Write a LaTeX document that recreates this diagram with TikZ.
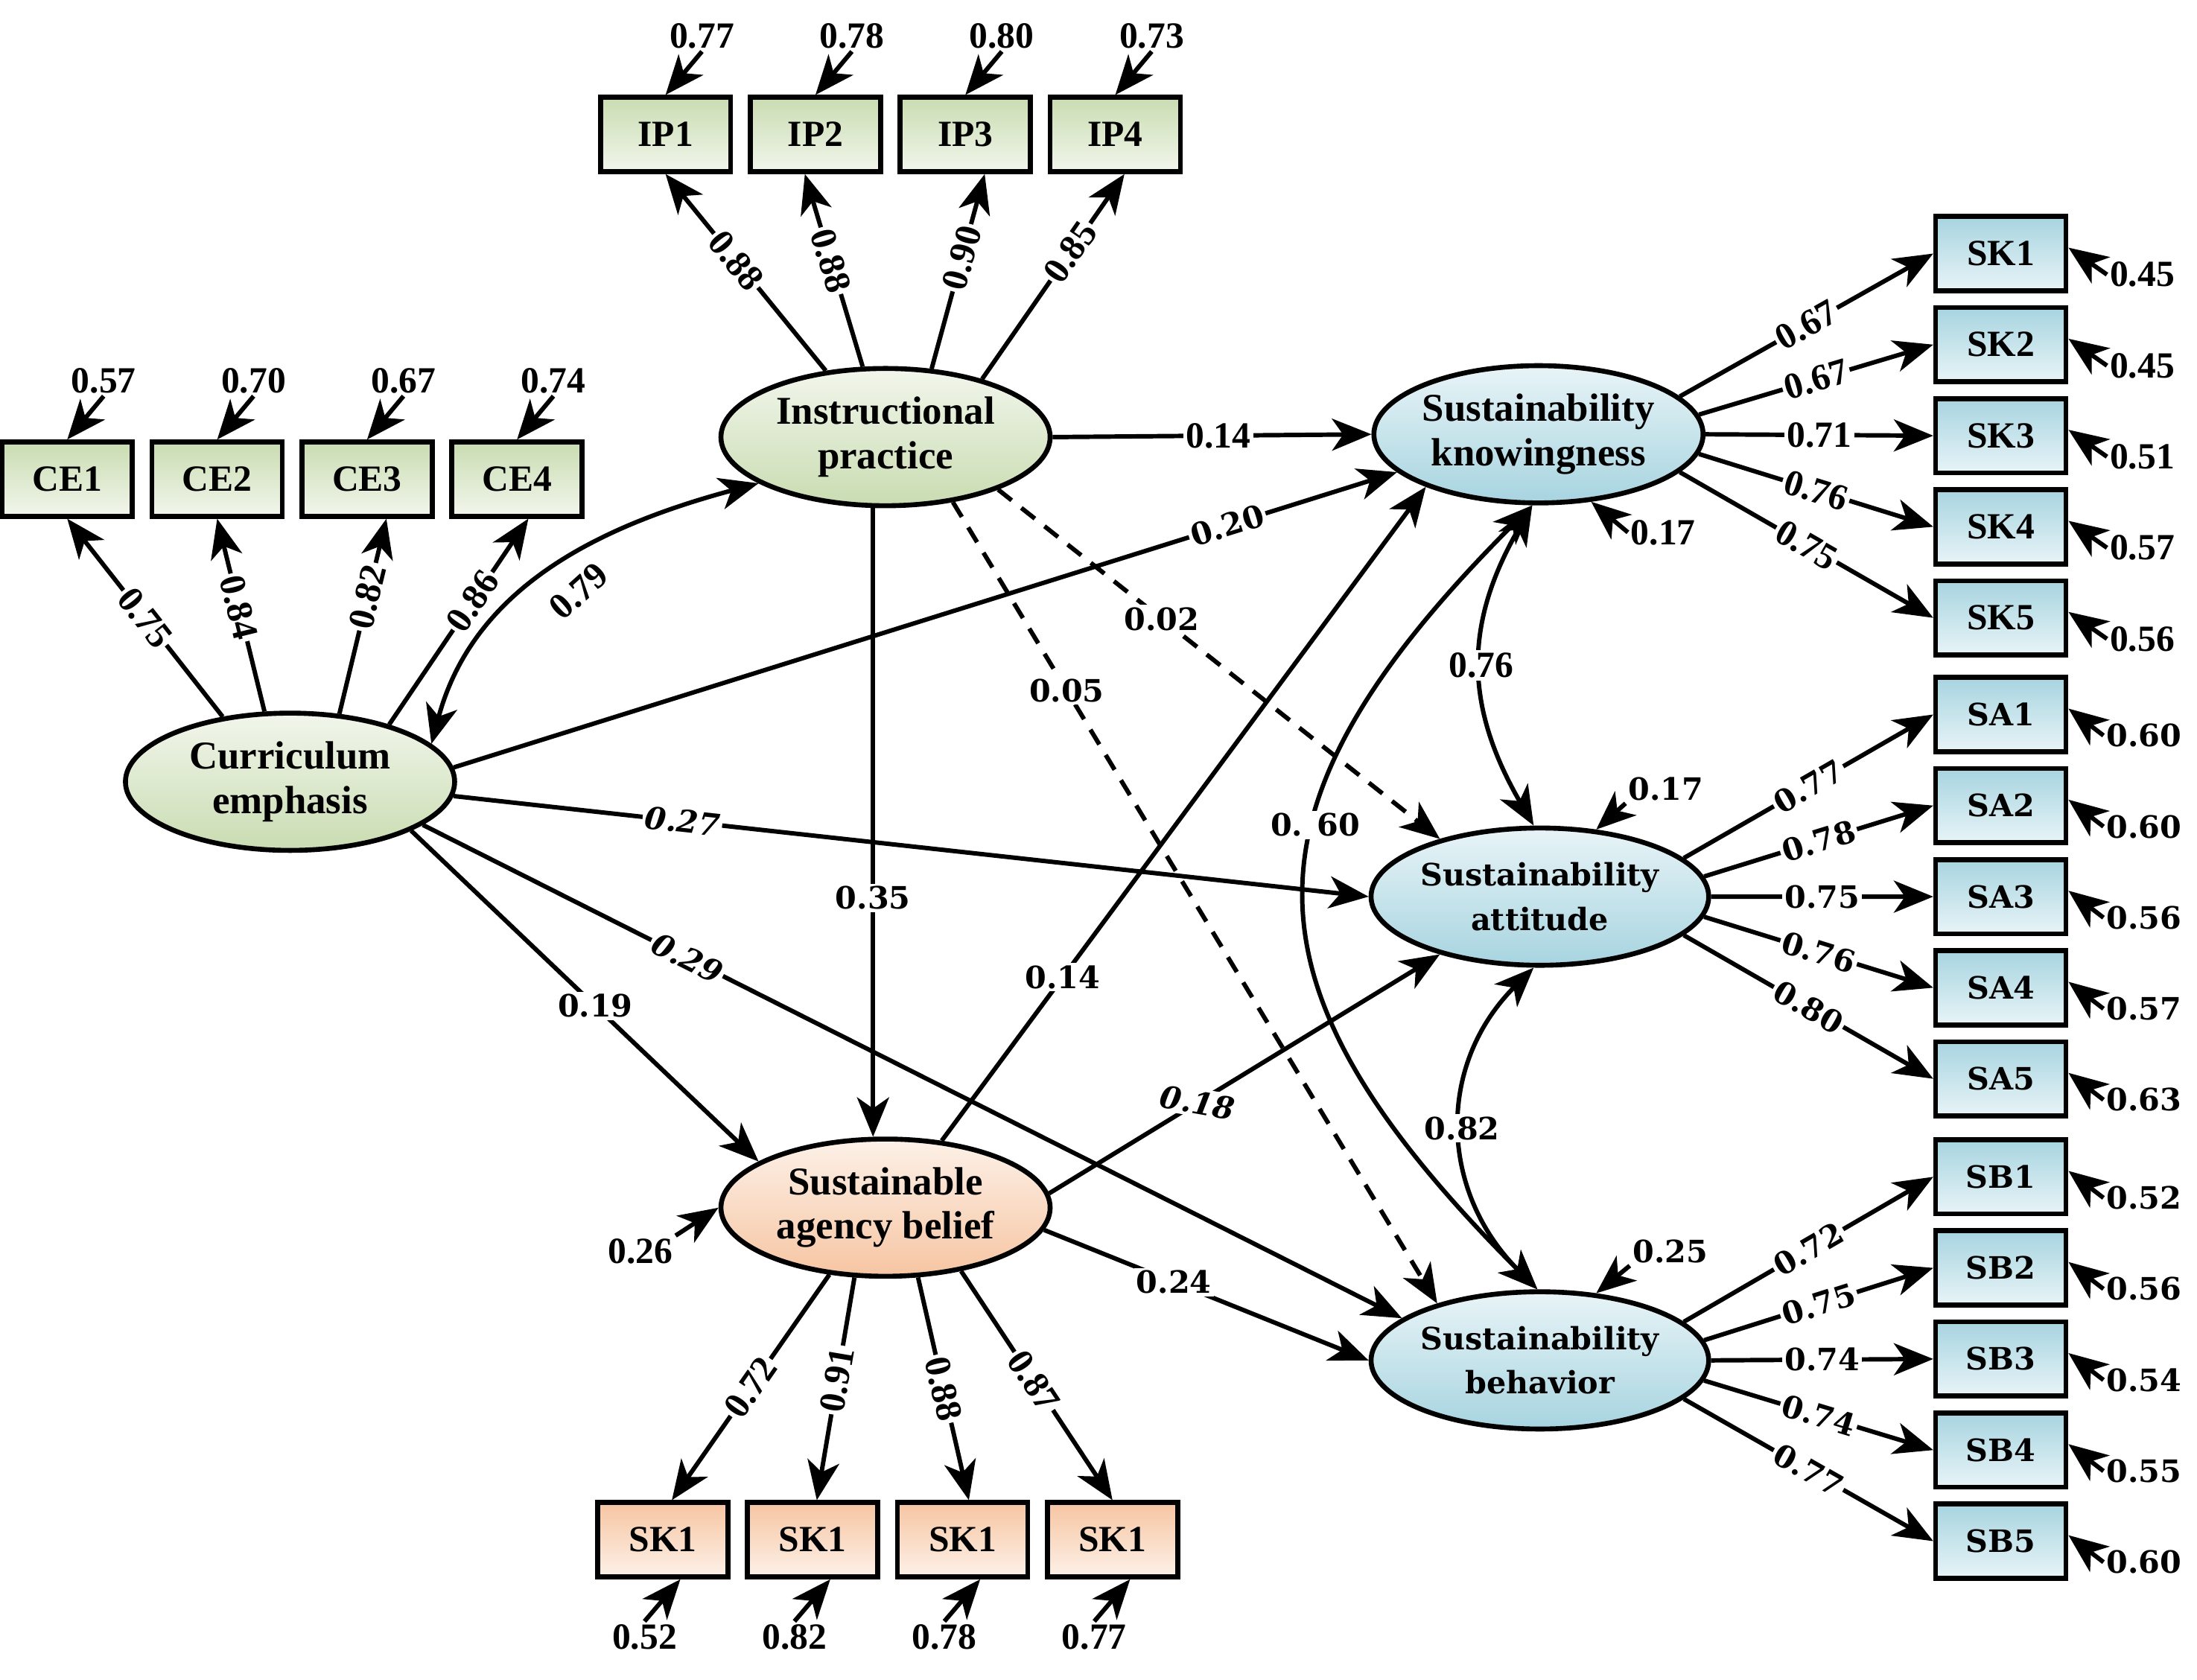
\documentclass[tikz,border=0pt]{standalone}
\usepackage{fontspec}
\setmainfont{Liberation Serif}
\newfontfamily\dvfont{DejaVu Serif}
\usepackage{tikz}
\usetikzlibrary{arrows.meta,shapes.geometric,positioning}

\definecolor{grnD}{HTML}{C9DCB1}
\definecolor{grnL}{HTML}{F2F6EC}
\definecolor{bluD}{HTML}{A7D4E0}
\definecolor{bluL}{HTML}{E8F4F7}
\definecolor{orgD}{HTML}{F6C5A2}
\definecolor{orgL}{HTML}{FDF1E8}

\begin{document}
\begin{tikzpicture}[
  x=0.02cm, y=0.02cm,
  font=\fontsize{15}{18}\selectfont\bfseries,
  dv/.style={font=\dvfont\fontsize{12.5}{18}\selectfont\bfseries},
  dvi/.style={font=\dvfont\fontsize{12.5}{18}\selectfont\bfseries\itshape},
  box/.style={rectangle, draw, line width=2pt, minimum width=1.86cm, minimum height=1.06cm, inner sep=1pt},
  gbox/.style={box, top color=grnD, bottom color=grnL},
  bbox/.style={box, top color=bluD, bottom color=bluL},
  obox/.style={box, top color=orgD, bottom color=orgL},
  latent/.style={ellipse, draw, line width=2pt, minimum width=4.7cm, minimum height=1.96cm, inner sep=0pt, align=center, font=\fontsize{16}{18}\selectfont\bfseries},
  glat/.style={latent, top color=grnL, bottom color=grnD},
  blat/.style={latent, top color=bluL, bottom color=bluD},
  olat/.style={latent, top color=orgL, bottom color=orgD},
  arrow/.style={-{Stealth[length=16pt, width=13pt, inset=4.5pt]}, line width=1.8pt},
  covar/.style={{Stealth[length=16pt, width=13pt, inset=4.5pt]}-{Stealth[length=16pt, width=13pt, inset=4.5pt]}, line width=1.8pt},
  dashline/.style={dash pattern=on 7pt off 5pt},
  coef/.style={fill=white, inner sep=1pt},
  val/.style={inner sep=1pt}
]
  \useasboundingbox (0,0) rectangle (1568,1199);

  % latent variables
  \node[glat] (ce) at (207,641) {Curriculum\\emphasis};
  \node[glat] (ip) at (632,887) {Instructional\\practice};
  \node[olat] (sab) at (632,337) {Sustainable\\agency belief};
  \node[blat] (sk) at (1098,889) {Sustainability\\knowingness};
  \node[blat, dv] (sa) at (1099,559) {Sustainability\\attitude};
  \node[blat, dv] (sb) at (1099,228) {Sustainability\\behavior};

  % indicators
  \node[gbox] (ce1) at (48,857) {CE1};
  \node[gbox, right=0.21cm of ce1] (ce2) {CE2};
  \node[gbox, right=0.21cm of ce2] (ce3) {CE3};
  \node[gbox, right=0.21cm of ce3] (ce4) {CE4};

  \node[gbox] (ip1) at (475,1103) {IP1};
  \node[gbox, right=0.21cm of ip1] (ip2) {IP2};
  \node[gbox, right=0.21cm of ip2] (ip3) {IP3};
  \node[gbox, right=0.21cm of ip3] (ip4) {IP4};

  \node[obox] (ab1) at (473,100) {SK1};
  \node[obox, right=0.21cm of ab1] (ab2) {SK1};
  \node[obox, right=0.21cm of ab2] (ab3) {SK1};
  \node[obox, right=0.21cm of ab3] (ab4) {SK1};

  \node[bbox] (sk1) at (1428,1018) {SK1};
  \node[bbox, below=0.17cm of sk1] (sk2) {SK2};
  \node[bbox, below=0.17cm of sk2] (sk3) {SK3};
  \node[bbox, below=0.17cm of sk3] (sk4) {SK4};
  \node[bbox, below=0.17cm of sk4] (sk5) {SK5};

  \node[bbox, dv] (sa1) at (1428,689) {SA1};
  \node[bbox, dv, below=0.17cm of sa1] (sa2) {SA2};
  \node[bbox, dv, below=0.17cm of sa2] (sa3) {SA3};
  \node[bbox, dv, below=0.17cm of sa3] (sa4) {SA4};
  \node[bbox, dv, below=0.17cm of sa4] (sa5) {SA5};

  \node[bbox, dv] (sb1) at (1428,359) {SB1};
  \node[bbox, dv, below=0.17cm of sb1] (sb2) {SB2};
  \node[bbox, dv, below=0.17cm of sb2] (sb3) {SB3};
  \node[bbox, dv, below=0.17cm of sb3] (sb4) {SB4};
  \node[bbox, dv, below=0.17cm of sb4] (sb5) {SB5};

  % error terms
  \node[val, above=0.62cm of ce1, xshift=0.52cm] (ce1e) {0.57};
  \node[val, above=0.62cm of ce2, xshift=0.52cm] (ce2e) {0.70};
  \node[val, above=0.62cm of ce3, xshift=0.52cm] (ce3e) {0.67};
  \node[val, above=0.62cm of ce4, xshift=0.52cm] (ce4e) {0.74};
  \node[val, above=0.62cm of ip1, xshift=0.52cm] (ip1e) {0.77};
  \node[val, above=0.62cm of ip2, xshift=0.52cm] (ip2e) {0.78};
  \node[val, above=0.62cm of ip3, xshift=0.52cm] (ip3e) {0.80};
  \node[val, above=0.62cm of ip4, xshift=0.52cm] (ip4e) {0.73};
  \node[val, below=0.6cm of ab1, xshift=-0.26cm] (ab1e) {0.52};
  \node[val, below=0.6cm of ab2, xshift=-0.26cm] (ab2e) {0.82};
  \node[val, below=0.6cm of ab3, xshift=-0.26cm] (ab3e) {0.78};
  \node[val, below=0.6cm of ab4, xshift=-0.26cm] (ab4e) {0.77};
  \node[val, right=0.55cm of sk1, yshift=-0.3cm] (sk1e) {0.45};
  \node[val, right=0.55cm of sk2, yshift=-0.3cm] (sk2e) {0.45};
  \node[val, right=0.55cm of sk3, yshift=-0.3cm] (sk3e) {0.51};
  \node[val, right=0.55cm of sk4, yshift=-0.3cm] (sk4e) {0.57};
  \node[val, right=0.55cm of sk5, yshift=-0.3cm] (sk5e) {0.56};
  \node[val, dv, right=0.5cm of sa1, yshift=-0.3cm] (sa1e) {0.60};
  \node[val, dv, right=0.5cm of sa2, yshift=-0.3cm] (sa2e) {0.60};
  \node[val, dv, right=0.5cm of sa3, yshift=-0.3cm] (sa3e) {0.56};
  \node[val, dv, right=0.5cm of sa4, yshift=-0.3cm] (sa4e) {0.57};
  \node[val, dv, right=0.5cm of sa5, yshift=-0.3cm] (sa5e) {0.63};
  \node[val, dv, right=0.5cm of sb1, yshift=-0.3cm] (sb1e) {0.52};
  \node[val, dv, right=0.5cm of sb2, yshift=-0.3cm] (sb2e) {0.56};
  \node[val, dv, right=0.5cm of sb3, yshift=-0.3cm] (sb3e) {0.54};
  \node[val, dv, right=0.5cm of sb4, yshift=-0.3cm] (sb4e) {0.55};
  \node[val, dv, right=0.5cm of sb5, yshift=-0.3cm] (sb5e) {0.60};

  \node[val] (skd) at (1187,819) {0.17};
  \node[val, dv] (sad) at (1189,636) {0.17};
  \node[val, dv] (sbd) at (1192,306) {0.25};
  \node[val] (sabd) at (457,306) {0.26};

  \draw[arrow] (ce1e.south) -- (ce1.north);
  \draw[arrow] (ce2e.south) -- (ce2.north);
  \draw[arrow] (ce3e.south) -- (ce3.north);
  \draw[arrow] (ce4e.south) -- (ce4.north);
  \draw[arrow] (ip1e.south) -- (ip1.north);
  \draw[arrow] (ip2e.south) -- (ip2.north);
  \draw[arrow] (ip3e.south) -- (ip3.north);
  \draw[arrow] (ip4e.south) -- (ip4.north);
  \draw[arrow] (ab1e.north) -- (ab1.-66);
  \draw[arrow] (ab2e.north) -- (ab2.-66);
  \draw[arrow] (ab3e.north) -- (ab3.-66);
  \draw[arrow] (ab4e.north) -- (ab4.-66);
  \draw[arrow] (sk1e.west) -- (sk1.5);
  \draw[arrow] (sk2e.west) -- (sk2.5);
  \draw[arrow] (sk3e.west) -- (sk3.5);
  \draw[arrow] (sk4e.west) -- (sk4.5);
  \draw[arrow] (sk5e.west) -- (sk5.5);
  \draw[arrow] (sa1e.west) -- (sa1.5);
  \draw[arrow] (sa2e.west) -- (sa2.5);
  \draw[arrow] (sa3e.west) -- (sa3.5);
  \draw[arrow] (sa4e.west) -- (sa4.5);
  \draw[arrow] (sa5e.west) -- (sa5.5);
  \draw[arrow] (sb1e.west) -- (sb1.5);
  \draw[arrow] (sb2e.west) -- (sb2.5);
  \draw[arrow] (sb3e.west) -- (sb3.5);
  \draw[arrow] (sb4e.west) -- (sb4.5);
  \draw[arrow] (sb5e.west) -- (sb5.5);
  \draw[arrow] (skd.west) -- (sk.-52);
  \draw[arrow] (sad.south west) -- (sa.50);
  \draw[arrow] (sbd.south west) -- (sb.50);
  \draw[arrow] (sabd.north east) -- (sab.west);

  % loadings
  \draw[arrow] (ce.136) -- node[coef, sloped, pos=0.5] {0.75} (ce1.south);
  \draw[arrow] (ce.110) -- node[coef, sloped, pos=0.54] {0.84} (ce2.south);
  \draw[arrow] (ce.54) -- node[coef, sloped, pos=0.6] {0.82} (ce3.-64);
  \draw[arrow] (ce.30) -- node[coef, sloped, pos=0.6] {0.86} (ce4.-74);

  \draw[arrow] (ip.132) -- node[coef, sloped, pos=0.56] {0.88} (ip1.south);
  \draw[arrow] (ip.108) -- node[coef, sloped, pos=0.55] {0.88} (ip2.-105);
  \draw[arrow] (ip.56) -- node[coef, sloped, pos=0.57] {0.90} (ip3.-64);
  \draw[arrow] (ip.31) -- node[coef, sloped, pos=0.62] {0.85} (ip4.-77);

  \draw[arrow] (sab.-130) -- node[coef, sloped, pos=0.5] {0.72} (ab1.77);
  \draw[arrow] (sab.-114) -- node[coef, sloped, pos=0.46] {0.91} (ab2.84);
  \draw[arrow] (sab.-65) -- node[coef, sloped, pos=0.5] {0.88} (ab3.81);
  \draw[arrow] (sab.-40) -- node[coef, sloped, pos=0.48] {0.87} (ab4.north);

  \draw[arrow] (sk.15) -- node[coef, sloped] {0.67} (sk1.west);
  \draw[arrow] (sk.7) -- node[coef, sloped] {0.67} (sk2.west);
  \draw[arrow] (sk.east) -- node[coef] {0.71} (sk3.west);
  \draw[arrow] (sk.-7) -- node[coef, sloped] {0.76} (sk4.west);
  \draw[arrow] (sk.-15) -- node[coef, sloped] {0.75} (sk5.west);

  \draw[arrow] (sa.15) -- node[coef, dv, sloped] {0.77} (sa1.west);
  \draw[arrow] (sa.7) -- node[coef, dv, sloped] {0.78} (sa2.west);
  \draw[arrow] (sa.east) -- node[coef, dv] {0.75} (sa3.west);
  \draw[arrow] (sa.-7) -- node[coef, dv, sloped] {0.76} (sa4.west);
  \draw[arrow] (sa.-15) -- node[coef, dv, sloped] {0.80} (sa5.west);

  \draw[arrow] (sb.15) -- node[coef, dv, sloped] {0.72} (sb1.west);
  \draw[arrow] (sb.7) -- node[coef, dv, sloped] {0.75} (sb2.west);
  \draw[arrow] (sb.east) -- node[coef, dv] {0.74} (sb3.west);
  \draw[arrow] (sb.-7) -- node[coef, dv, sloped] {0.74} (sb4.west);
  \draw[arrow] (sb.-15) -- node[coef, dv, sloped] {0.77} (sb5.west);

  % structural paths
  \draw[arrow] (ip.east) -- node[coef, pos=0.52] {0.14} (sk.west);
  \draw[arrow] (ce.5) -- node[coef, dv, sloped, pos=0.82] {0.20} (sk.195);
  \draw[arrow, dashline] (ip.-25) -- node[coef, dv, pos=0.37] {0.02} (sa.150);
  \draw[arrow, dashline] (ip.-44) -- node[coef, dv, pos=0.235] {0.05} (sb.151);
  \draw[arrow] (ip.-100) -- node[coef, dv, pos=0.62] {0.35} (sab.100);
  \draw[arrow] (ce.-5) -- node[coef, dvi, sloped, pos=0.25] {0.27} (sa.west);
  \draw[arrow] (ce.-18) -- node[coef, dvi, sloped, pos=0.27] {0.29} (sb.163);
  \draw[arrow] (ce.-22) -- node[coef, dv, pos=0.53] {0.19} (sab.160);
  \draw[arrow] (sab.50) -- node[coef, dv, pos=0.25] {0.14} (sk.205);
  \draw[arrow] (sab.5) -- node[coef, dvi, pos=0.38, rotate=-10] {0.18} (sa.210);
  \draw[arrow] (sab.-8) -- node[coef, dv, pos=0.4] {0.24} (sb.west);

  % covariances
  \draw[covar] (ce.15) to[out=75, in=195] (ip.200);
  \node[val, rotate=42] (r79) at (413,777) {0.79};
  \draw[covar] (sk.-95) to[out=240, in=120, looseness=1.1] node[coef] {0.76} (sa.95);
  \draw[covar] (sa.-95) to[out=225, in=135, looseness=1.1] node[coef, dv] {0.82} (sb.92);
  \draw[covar] (sk.-95) to[out=225, in=135, looseness=1.4] node[coef, dv, pos=0.4] {0. 60} (sb.92);
\end{tikzpicture}
\end{document}
